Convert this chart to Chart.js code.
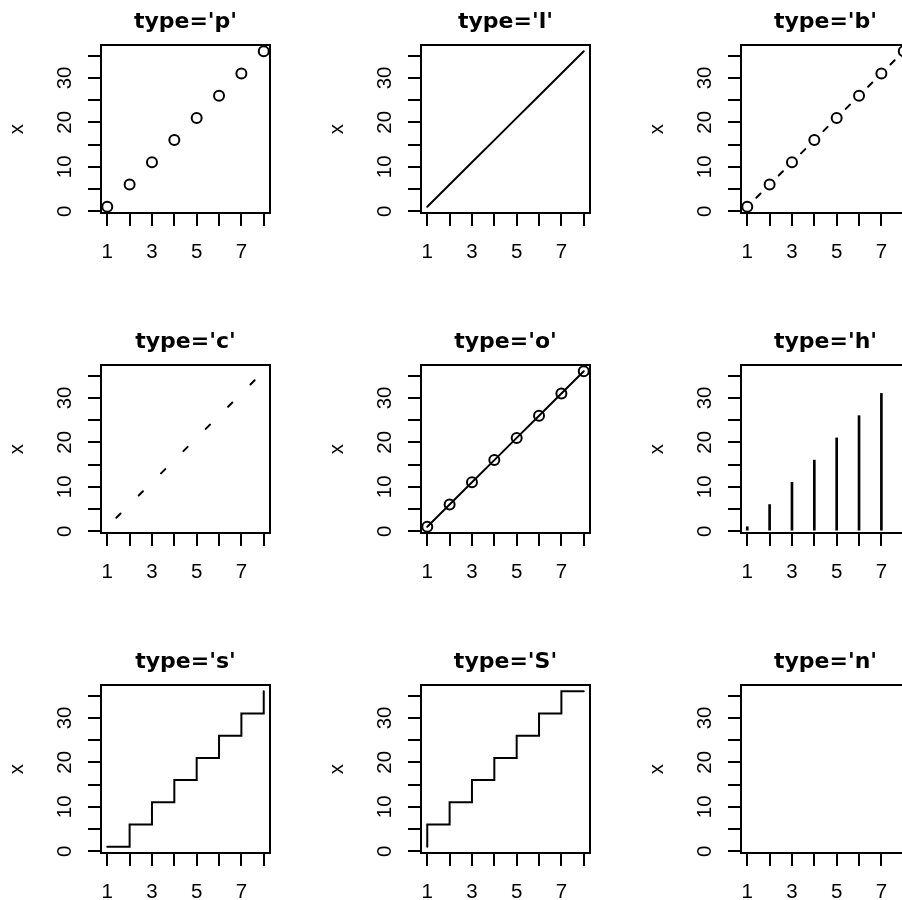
<!DOCTYPE html>
<html>
<head>
<meta charset="utf-8">
<script src="https://cdn.jsdelivr.net/npm/chart.js@4"></script>
<style>
  html, body { margin: 0; padding: 0; background: #fff; }
  body { width: 902px; height: 900px; overflow: hidden; position: relative; }
  .panel { position: absolute; width: 320px; height: 320px; }
</style>
</head>
<body>
<div id="grade"></div>
<script>
// dados do grafico (indice e valores)
var indices = [1, 2, 3, 4, 5, 6, 7, 8]
var valores = [1, 6, 11, 16, 21, 26, 31, 36]
var tipos = ['p', 'l', 'b', 'c', 'o', 'h', 's', 'S', 'n']
var ticksX = [1, 2, 3, 4, 5, 6, 7, 8]
var rotulosX = ['1', '', '3', '', '5', '', '7', '']
var ticksY = [0, 5, 10, 15, 20, 25, 30, 35]
var rotulosY = ['0', '', '10', '', '20', '', '30', '']

var FONTE = 'Liberation Sans'
var FONTE_TITULO = 'DejaVu Sans'
Chart.defaults.font.family = FONTE
Chart.defaults.color = '#000'

//comprimento do traço nas linhas com intervalo (tipos b e c)
var TRACO = 6
var ESPESSURA = 2

/**
 * monta os pontos {x,y} a partir dos arrays
 */
function pontos(){
    return indices.map(function(v, i){ return {x: v, y: valores[i]} })
}

//desenha a moldura do grafico
var moldura = {
    id: 'moldura',
    afterDraw: function(chart){
        var a = chart.chartArea
        var ctx = chart.ctx
        ctx.save()
        ctx.strokeStyle = '#000'
        ctx.lineWidth = 2
        ctx.strokeRect(a.left, a.top, a.right - a.left, a.bottom - a.top)
        ctx.restore()
    }
}

//segmentos com intervalo em volta dos pontos
var segIntervalo = {
    borderDash: function(c){
        var L = Math.hypot(c.p1.x - c.p0.x, c.p1.y - c.p0.y)
        return [TRACO, Math.max(L - TRACO, 0)]
    },
    borderDashOffset: function(c){
        var L = Math.hypot(c.p1.x - c.p0.x, c.p1.y - c.p0.y)
        return TRACO + (L - TRACO) / 2
    }
}

function datasetDoTipo(t){
    var base = {
        data: pontos(),
        borderColor: '#000',
        backgroundColor: 'transparent',
        borderWidth: ESPESSURA,
        borderCapStyle: 'round',
        pointRadius: 0,
        pointBorderWidth: ESPESSURA,
        pointBorderColor: '#000',
        pointBackgroundColor: 'transparent',
        showLine: true,
        clip: false
    }
    if(t == 'p'){ base.showLine = false; base.pointRadius = 5 }
    if(t == 'o'){ base.pointRadius = 5 }
    if(t == 'b'){ base.pointRadius = 5; base.segment = segIntervalo }
    if(t == 'c'){ base.segment = segIntervalo }
    if(t == 's'){ base.stepped = 'before' }
    if(t == 'S'){ base.stepped = 'after' }
    if(t == 'n'){ base.showLine = false }
    if(t == 'h'){
        base = {
            type: 'bar',
            data: pontos(),
            backgroundColor: '#000',
            borderWidth: 0,
            barThickness: 2
        }
    }
    return base
}

function criaPainel(t, n){
    var col = n % 3, lin = Math.floor(n / 3)
    var div = document.createElement('div')
    div.className = 'panel'
    div.style.left = (col * 320) + 'px'
    div.style.top = (lin * 320) + 'px'
    var cv = document.createElement('canvas')
    cv.width = 320
    cv.height = 320
    div.appendChild(cv)
    document.getElementById('grade').appendChild(div)

    new Chart(cv.getContext('2d'), {
        type: 'line',
        data: { datasets: [datasetDoTipo(t)] },
        plugins: [moldura],
        options: {
            responsive: false,
            animation: false,
            devicePixelRatio: 1,
            layout: { padding: { left: 0, right: 50, top: 0, bottom: 0 } },
            plugins: {
                legend: { display: false },
                tooltip: { enabled: false },
                title: {
                    display: true,
                    text: "type='" + t + "'",
                    fullSize: false,
                    color: '#000',
                    font: { family: FONTE_TITULO, size: 22, weight: 'bold' },
                    padding: { top: 9, bottom: 9.6 }
                }
            },
            scales: {
                x: {
                    type: 'linear',
                    position: 'bottom',
                    offset: false,
                    min: 0.72,
                    max: 8.28,
                    afterFit: function(s){ s.height = 107 },
                    afterBuildTicks: function(s){ s.ticks = ticksX.map(function(v){ return {value: v} }) },
                    grid: { offset: false, drawOnChartArea: false, drawTicks: true, tickLength: 13, color: '#000', lineWidth: 2 },
                    border: { display: true, color: '#000', width: 2 },
                    ticks: {
                        autoSkip: false,
                        minRotation: 0, maxRotation: 0,
                        padding: 14,
                        font: { family: FONTE, size: 20.5 },
                        color: '#000',
                        callback: function(v){ return rotulosX[ticksX.indexOf(v)] }
                    }
                },
                y: {
                    type: 'linear',
                    position: 'left',
                    min: -0.4,
                    max: 37.4,
                    afterFit: function(s){ s.width = 101 },
                    afterBuildTicks: function(s){ s.ticks = ticksY.map(function(v){ return {value: v} }) },
                    grid: { drawOnChartArea: false, drawTicks: true, tickLength: 13, color: '#000', lineWidth: 2 },
                    border: { display: true, color: '#000', width: 2 },
                    title: {
                        display: true,
                        text: 'x',
                        color: '#000',
                        font: { family: FONTE, size: 20.5 },
                        padding: { top: 5, bottom: 0 }
                    },
                    ticks: {
                        autoSkip: false,
                        minRotation: 90, maxRotation: 90,
                        crossAlign: 'center',
                        padding: 11,
                        font: { family: FONTE, size: 20.5 },
                        color: '#000',
                        callback: function(v){ return rotulosY[ticksY.indexOf(v)] }
                    }
                }
            }
        }
    })
}

tipos.forEach(function(t, n){ criaPainel(t, n) })
</script>
</body>
</html>
